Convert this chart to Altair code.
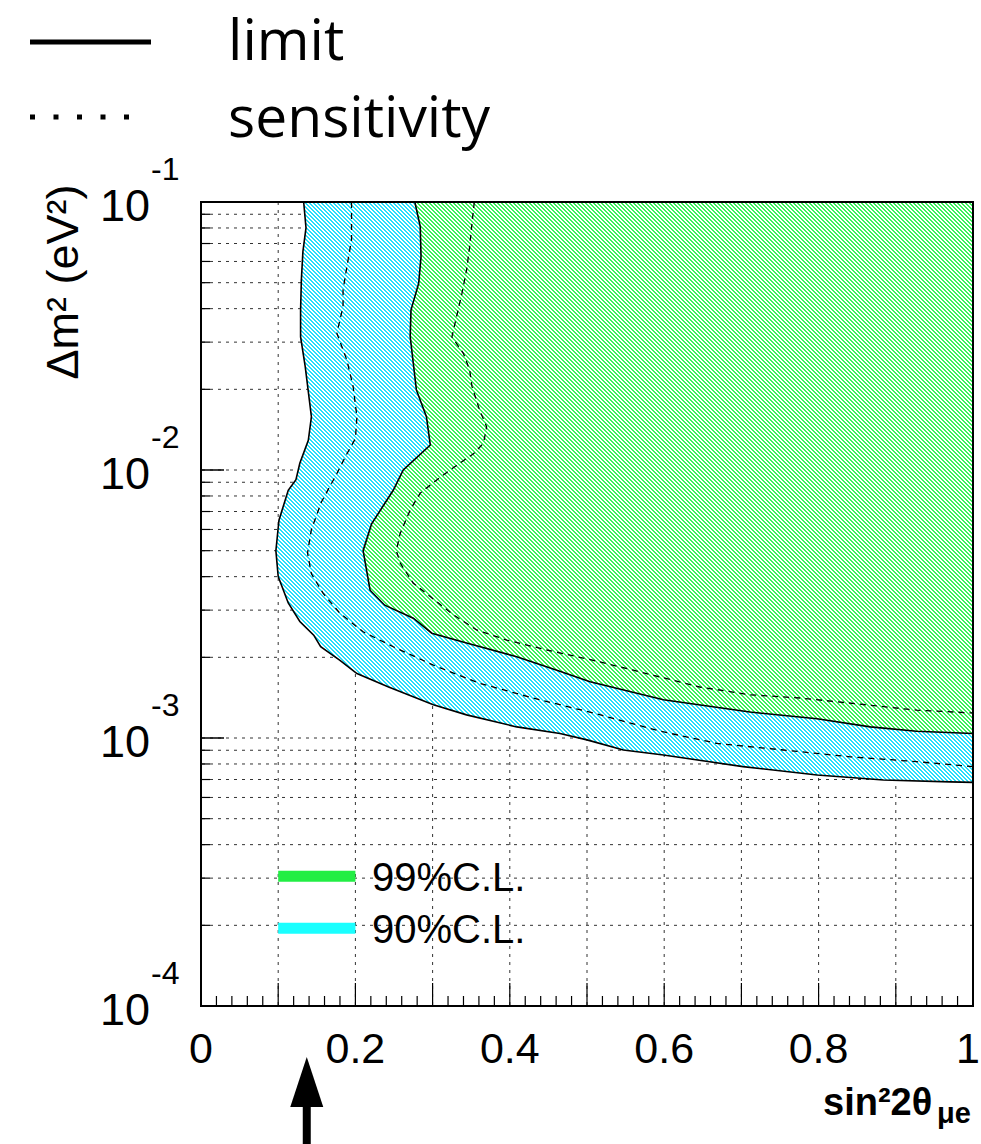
import math
import altair as alt
import pandas as pd

W, H = 772, 804

# ---- curves (sin^2 2theta, dm^2), top to bottom ----
lim90_x = [0.133, 0.136, 0.132, 0.130, 0.129, 0.129, 0.135, 0.143, 0.139, 0.128, 0.123, 0.113,
           0.101, 0.097, 0.100, 0.113, 0.128, 0.146, 0.155, 0.180, 0.202, 0.243, 0.301, 0.344,
           0.409, 0.465, 0.500, 0.547, 0.599, 0.702, 0.798, 0.884, 0.970, 1.000]
lim90_y = [0.100, 0.0800, 0.0653, 0.0512, 0.0395, 0.0314, 0.0243, 0.0158, 0.0129, 0.0106, 0.0092, 0.0084,
           0.0065, 0.0050, 0.0040, 0.00319, 0.00272, 0.00242, 0.00219, 0.00195, 0.00174, 0.00155, 0.00133, 0.00122,
           0.00110, 0.00104, 0.000984, 0.000902, 0.000864, 0.000782, 0.000728, 0.000697, 0.000686, 0.000683]

lim99_x = [0.277, 0.284, 0.285, 0.282, 0.272, 0.271, 0.279, 0.292, 0.297, 0.262, 0.249, 0.221,
           0.210, 0.219, 0.238, 0.275, 0.299, 0.344, 0.409, 0.461, 0.504, 0.599, 0.711, 0.798,
           0.867, 0.927, 1.000]
lim99_y = [0.100, 0.0809, 0.0625, 0.0498, 0.0395, 0.0314, 0.0199, 0.0158, 0.0124, 0.0100, 0.0084, 0.0063,
           0.0050, 0.00356, 0.00313, 0.00280, 0.00246, 0.00226, 0.00201, 0.00179, 0.00162, 0.00139, 0.00125, 0.00118,
           0.00110, 0.00106, 0.00104]

sens90_x = [0.195, 0.195, 0.189, 0.184, 0.184, 0.176, 0.189, 0.197, 0.202, 0.200, 0.189, 0.176,
            0.156, 0.143, 0.138, 0.143, 0.158, 0.180, 0.210, 0.249, 0.301, 0.361, 0.430, 0.508,
            0.595, 0.668, 0.754, 0.841, 0.927, 1.000]
sens90_y = [0.100, 0.0722, 0.0574, 0.0470, 0.0407, 0.0324, 0.0257, 0.0205, 0.0158, 0.0131, 0.0115, 0.0097,
            0.0076, 0.0060, 0.0049, 0.0041, 0.00347, 0.00292, 0.00249, 0.00219, 0.00187, 0.00160, 0.00141, 0.00124,
            0.00106, 0.000955, 0.000902, 0.000851, 0.000816, 0.000782]

sens99_x = [0.354, 0.351, 0.348, 0.344, 0.338, 0.331, 0.325, 0.340, 0.348, 0.351, 0.361, 0.370,
            0.366, 0.353, 0.331, 0.310, 0.284, 0.271, 0.258, 0.253, 0.258, 0.275, 0.297, 0.327,
            0.357, 0.396, 0.448, 0.508, 0.560, 0.646, 0.711, 0.776, 0.862, 0.927, 1.000]
sens99_y = [0.100, 0.0833, 0.0681, 0.0557, 0.0456, 0.0373, 0.0314, 0.0272, 0.0236, 0.0205, 0.0167, 0.0145,
            0.0126, 0.0115, 0.0104, 0.0094, 0.0082, 0.0071, 0.0058, 0.0050, 0.0045, 0.00378, 0.00337, 0.00288,
            0.00253, 0.00232, 0.00213, 0.00195, 0.00179, 0.00155, 0.00145, 0.00141, 0.00133, 0.00127, 0.00124]

# ---- axes / ticks ----
x_tick_vals = [0, 0.2, 0.4, 0.6, 0.8]
x_tick_text = ["0", "0.2", "0.4", "0.6", "0.8"]
x_last_val = [1]
x_last_text = ["1"]
x_grid = [0.1, 0.2, 0.3, 0.4, 0.5, 0.6, 0.7, 0.8, 0.9]
x_minor = [0.02, 0.04, 0.06, 0.08, 0.12, 0.14, 0.16, 0.18, 0.22, 0.24, 0.26, 0.28,
           0.32, 0.34, 0.36, 0.38, 0.42, 0.44, 0.46, 0.48, 0.52, 0.54, 0.56, 0.58,
           0.62, 0.64, 0.66, 0.68, 0.72, 0.74, 0.76, 0.78, 0.82, 0.84, 0.86, 0.88,
           0.92, 0.94, 0.96, 0.98]
y_decades = [1e-4, 1e-3, 1e-2, 1e-1]
y_dec_exp = ["-4", "-3", "-2", "-1"]
y_grid = [m * d for d in (1e-4, 1e-3, 1e-2) for m in range(1, 10)][1:]
y_minor = [m * d for d in (1e-4, 1e-3, 1e-2) for m in range(2, 10)]

leg_labels = ["99%C.L.", "90%C.L."]
leg_y = [3.05e-4, 1.95e-4]
leg_colors = ["#22ee44", "#1affff"]
arrow_x = [0.137]

CYAN_HATCH = "#25e0fc"
GREEN_HATCH = "#38f45a"


def curve(xs, ys, name):
    return pd.DataFrame({"x": xs, "y": ys, "i": list(range(len(xs))), "curve": name})


def px_x(v):
    return v * W


def px_y(v):
    return (math.log10(0.1) - math.log10(v)) / 3.0 * H


def hatch(color, xs_, ys_, pitch=4, frac=0.5):
    """45-degree '\\' hatch as a hard-stop gradient over the area's bounding box,
    with an exact integer pitch (in x-y pixels) so that no seams appear."""
    bw = W - px_x(min(xs_))
    bh = px_y(min(ys_))
    n = int(math.ceil((bw + bh) / pitch))
    span = n * pitch
    s = bh * span / (bw * bw + bh * bh)
    x2 = s * bw / bh
    y2 = 1 - s
    stops = []
    for k in range(n):
        a, b, c = k / n, (k + frac) / n, (k + 1) / n
        stops += [alt.GradientStop(color=color, offset=a), alt.GradientStop(color=color, offset=b),
                  alt.GradientStop(color="white", offset=b), alt.GradientStop(color="white", offset=min(c, 1.0))]
    return alt.LinearGradient(gradient="linear", stops=stops, x1=0, y1=1, x2=x2, y2=y2)


xs = alt.Scale(domain=[0, 1], nice=False, zero=False)
ys = alt.Scale(type="log", domain=[1e-4, 1e-1], nice=False)

d90 = curve(lim90_x, lim90_y, "lim90")
d99 = curve(lim99_x, lim99_y, "lim99")
limits = pd.concat([d90, d99])
sens = pd.concat([curve(sens90_x, sens90_y, "s90"), curve(sens99_x, sens99_y, "s99")])

FONT = "Liberation Sans, Arial, Helvetica, sans-serif"

grid_h = alt.Chart(pd.DataFrame({"v": y_grid})).mark_rule(
    color="#333", strokeDash=[3, 5], strokeWidth=1).encode(y=alt.Y("v:Q", scale=ys, axis=None))
grid_v = alt.Chart(pd.DataFrame({"v": x_grid})).mark_rule(
    color="#333", strokeDash=[3, 5], strokeWidth=1).encode(x=alt.X("v:Q", scale=xs, axis=None))

area90 = alt.Chart(d90).mark_area(orient="horizontal", fill=hatch(CYAN_HATCH, lim90_x, lim90_y, frac=0.45),
                                  strokeWidth=0, opacity=1, fillOpacity=1).encode(
    x=alt.X("x:Q", scale=xs, axis=None), x2=alt.datum(1), y=alt.Y("y:Q", scale=ys, axis=None))
area99 = alt.Chart(d99).mark_area(orient="horizontal", fill=hatch(GREEN_HATCH, lim99_x, lim99_y, frac=0.45),
                                  strokeWidth=0, opacity=1, fillOpacity=1).encode(
    x=alt.X("x:Q", scale=xs, axis=None), x2=alt.datum(1), y=alt.Y("y:Q", scale=ys, axis=None))

lim_lines = alt.Chart(limits).mark_line(color="black", strokeWidth=1.6, clip=True).encode(
    x=alt.X("x:Q", scale=xs, axis=None), y=alt.Y("y:Q", scale=ys, axis=None),
    detail="curve:N", order="i:Q")
sens_lines = alt.Chart(sens).mark_line(color="black", strokeWidth=1.3, strokeDash=[6, 5], clip=True).encode(
    x=alt.X("x:Q", scale=xs, axis=None), y=alt.Y("y:Q", scale=ys, axis=None),
    detail="curve:N", order="i:Q")

ytick_major = alt.Chart(pd.DataFrame({"v": y_decades})).mark_rule(color="black", strokeWidth=1.5).encode(
    y=alt.Y("v:Q", scale=ys, axis=None), x=alt.value(0), x2=alt.value(23))
ytick_minor = alt.Chart(pd.DataFrame({"v": y_minor})).mark_rule(color="black", strokeWidth=1.2).encode(
    y=alt.Y("v:Q", scale=ys, axis=None), x=alt.value(0), x2=alt.value(9))
xtick_major = alt.Chart(pd.DataFrame({"v": x_grid})).mark_rule(color="black", strokeWidth=1.2).encode(
    x=alt.X("v:Q", scale=xs, axis=None), y=alt.value(H), y2=alt.value(H - 23))
xtick_minor = alt.Chart(pd.DataFrame({"v": x_minor})).mark_rule(color="black", strokeWidth=1.2).encode(
    x=alt.X("v:Q", scale=xs, axis=None), y=alt.value(H), y2=alt.value(H - 10))

frame = alt.Chart(pd.DataFrame({"a": [0]})).mark_rect(filled=False, stroke="black", strokeWidth=2).encode(
    x=alt.X(datum=0, scale=xs, axis=None), x2=alt.datum(1),
    y=alt.Y(datum=1e-4, scale=ys, axis=None), y2=alt.datum(0.1))

xlab = alt.Chart(pd.DataFrame({"v": x_tick_vals, "t": x_tick_text})).mark_text(
    font=FONT, fontSize=43, align="center", baseline="alphabetic", color="black").encode(
    x=alt.X("v:Q", scale=xs, axis=None), y=alt.value(861), text="t:N")
xlab_last = alt.Chart(pd.DataFrame({"v": x_last_val, "t": x_last_text})).mark_text(
    font=FONT, fontSize=43, align="right", baseline="alphabetic", dx=7, color="black").encode(
    x=alt.X("v:Q", scale=xs, axis=None), y=alt.value(861), text="t:N")

ydf = pd.DataFrame({"v": y_decades, "e": y_dec_exp})
ylab10 = alt.Chart(ydf).mark_text(font=FONT, fontSize=45, align="right", baseline="alphabetic",
                                  dy=19, color="black").encode(
    y=alt.Y("v:Q", scale=ys, axis=None), x=alt.value(-51), text=alt.value("10"))
ylabexp = alt.Chart(ydf).mark_text(font=FONT, fontSize=32, align="left", baseline="alphabetic",
                                   dy=-22, color="black").encode(
    y=alt.Y("v:Q", scale=ys, axis=None), x=alt.value(-50), text="e:N")

ytitle = alt.Chart(pd.DataFrame({"t": ["Δm² (eV²)"]})).mark_text(
    font=FONT, fontSize=45, angle=270, align="center", baseline="alphabetic", color="black").encode(
    x=alt.value(-123), y=alt.value(80), text="t:N")
xtitle = alt.Chart(pd.DataFrame({"t": ["sin²2θ"]})).mark_text(
    font=FONT, fontSize=38, fontWeight="bold", align="left", baseline="alphabetic", color="black").encode(
    x=alt.value(622), y=alt.value(913), text="t:N")
xtitle_sub = alt.Chart(pd.DataFrame({"t": ["μe"]})).mark_text(
    font=FONT, fontSize=29, fontWeight="bold", align="left", baseline="alphabetic", color="black").encode(
    x=alt.value(736), y=alt.value(921), text="t:N")

legdf = pd.DataFrame({"t": leg_labels, "ly": leg_y, "lc": leg_colors})
leg_bars = alt.Chart(legdf).mark_rule(strokeWidth=11).encode(
    x=alt.X(datum=0.1, scale=xs, axis=None), x2=alt.datum(0.2),
    y=alt.Y("ly:Q", scale=ys, axis=None), color=alt.Color("lc:N", scale=None))
leg_text = alt.Chart(legdf).mark_text(font=FONT, fontSize=40, align="left", baseline="alphabetic",
                                      dy=15, color="black").encode(
    x=alt.X(datum=0.2215, scale=xs, axis=None), y=alt.Y("ly:Q", scale=ys, axis=None), text="t:N")

top_solid = alt.Chart(pd.DataFrame({"a": [0]})).mark_rule(color="black", strokeWidth=5).encode(
    x=alt.value(-171), x2=alt.value(-50), y=alt.value(-160))
top_dot = alt.Chart(pd.DataFrame({"a": [0]})).mark_rule(color="black", strokeWidth=5, strokeDash=[5, 18.5]).encode(
    x=alt.value(-171), x2=alt.value(-66), y=alt.value(-85))
top_txt = alt.Chart(pd.DataFrame({"t": ["limit", "sensitivity"], "yy": [-142, -65]})).mark_text(
    font="Open Sans, DejaVu Sans, sans-serif", fontSize=57, align="left", baseline="alphabetic",
    color="black").encode(x=alt.value(27), y=alt.Y("yy:Q", scale=None, axis=None), text="t:N")

arrow_df = pd.DataFrame({"x": arrow_x})
arrow_head = alt.Chart(arrow_df).mark_point(
    shape="M0,-1L0.66,1L-0.66,1Z", size=2500, filled=True, color="black", opacity=1, strokeWidth=0).encode(
    x=alt.X("x:Q", scale=xs, axis=None), y=alt.value(880))
arrow_shaft = alt.Chart(arrow_df).mark_rule(color="black", strokeWidth=8).encode(
    x=alt.X("x:Q", scale=xs, axis=None), y=alt.value(896), y2=alt.value(950))

chart = alt.layer(
    grid_h, grid_v, area90, area99, lim_lines, sens_lines,
    ytick_major, ytick_minor, xtick_major, xtick_minor, frame,
    xlab, xlab_last, ylab10, ylabexp, ytitle, xtitle, xtitle_sub,
    leg_bars, leg_text, top_solid, top_dot, top_txt, arrow_head, arrow_shaft
).properties(
    width=W, height=H, autosize="none",
    padding={"left": 201, "top": 202, "right": 8, "bottom": 138},
    background="white"
).configure_view(stroke=None).configure_axis(disable=True)

chart.save("out.html", embed_options={"renderer": "svg", "actions": False})
